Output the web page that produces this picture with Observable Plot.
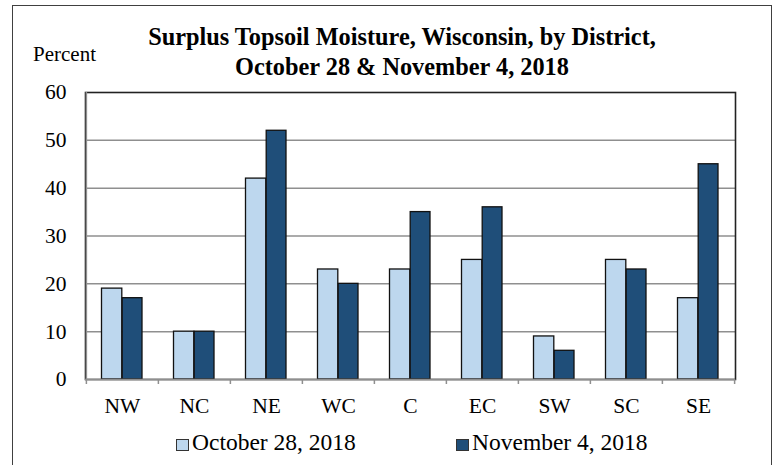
<!DOCTYPE html>
<html>
<head>
<meta charset="utf-8">
<script src="https://cdn.jsdelivr.net/npm/d3@7"></script>
<script src="https://cdn.jsdelivr.net/npm/@observablehq/plot@0.6"></script>
<style>
  html, body { margin: 0; padding: 0; background: #fff; }
  #wrap { position: relative; width: 777px; height: 465px; overflow: hidden; background: #fff; font-family: "Liberation Serif", "Times New Roman", serif; color: #000; }
  #wrap svg { position: absolute; left: 0; top: 0; }
  .t { position: absolute; white-space: nowrap; }
  .title { font-weight: bold; font-size: 24.3px; line-height: 24.3px; transform: translateX(-50%); }
  .border { position: absolute; left: 12px; top: 5px; width: 760px; height: 480px; border: 1.5px solid #404040; box-sizing: border-box; }
  .sw { position: absolute; width: 13px; height: 12px; border: 1px solid #333; box-sizing: border-box; }
  .leg { font-size: 23.5px; line-height: 23.5px; }
</style>
</head>
<body>
<div id="wrap"></div>
<script>
const districts = ["NW", "NC", "NE", "WC", "C", "EC", "SW", "SC", "SE"];
const oct28 = [19, 10, 42, 23, 23, 25, 9, 25, 17];
const nov4 = [17, 10, 52, 20, 35, 36, 6, 23, 45];
const yTicks = [0, 10, 20, 30, 40, 50, 60];
const seriesNames = ["October 28, 2018", "November 4, 2018"];
const titleLines = ["Surplus Topsoil Moisture, Wisconsin, by District,", "October 28 & November 4, 2018"];
const yLabel = "Percent";

const lightBlue = "#BDD7EE";
const darkBlue = "#1F4E79";
const grid = "#8f8f8f";

const octRows = districts.map((d, i) => ({district: d, value: oct28[i]}));
const novRows = districts.map((d, i) => ({district: d, value: nov4[i]}));

const W = 777, H = 465;
const mL = 85, mR = 42, mT = 92, mB = 86;
const half = (W - mL - mR) / districts.length / 2;

const chart = Plot.plot({
  width: W,
  height: H,
  marginLeft: mL,
  marginRight: mR,
  marginTop: mT,
  marginBottom: mB,
  style: {fontFamily: "Liberation Serif, Times New Roman, serif", fontSize: "21.5px", background: "transparent", color: "#000"},
  x: {domain: districts, padding: 0, label: null, tickSize: 0, tickPadding: 18},
  y: {domain: [0, 60], ticks: yTicks, label: null, tickSize: 0, tickPadding: 19, tickFormat: d3.format("d")},
  marks: [
    Plot.ruleY(yTicks.slice(1, -1), {stroke: grid, strokeWidth: 1.5}),
    Plot.barY(octRows, {x: "district", y: "value", fill: lightBlue, stroke: "#111", strokeWidth: 1.3, insetLeft: 15.5, insetRight: 36.2}),
    Plot.barY(novRows, {x: "district", y: "value", fill: darkBlue, stroke: "#111", strokeWidth: 1.3, insetLeft: 36.2, insetRight: 16}),
    Plot.frame({stroke: "#222", strokeWidth: 1.6}),
    Plot.ruleY([0], {stroke: grid, strokeWidth: 1.5}),
    Plot.ruleX([districts[0]], {x: d => d, dx: -half, stroke: grid, strokeWidth: 1.5}),
    Plot.ruleX(districts, {x: d => d, dx: -half, y1: d => 0, y2: d => 0, insetBottom: -5, stroke: grid, strokeWidth: 1.5}),
    Plot.ruleX([districts[districts.length - 1]], {x: d => d, dx: half, y1: d => 0, y2: d => 0, insetBottom: -5, stroke: grid, strokeWidth: 1.5})
  ]
});

const wrap = document.getElementById("wrap");
wrap.appendChild(chart);

function addText(cls, text, left, top, extra) {
  const el = document.createElement("div");
  el.className = "t " + cls;
  el.textContent = text;
  el.style.left = left + "px";
  el.style.top = top + "px";
  if (extra) Object.assign(el.style, extra);
  wrap.appendChild(el);
  return el;
}

addText("title", titleLines[0], 402, 25);
addText("title", titleLines[1], 402, 54.5);
addText("", yLabel, 33, 44.4, {fontSize: "21px", lineHeight: "21px"});

const sw1 = document.createElement("div");
sw1.className = "sw";
Object.assign(sw1.style, {left: "176px", top: "439px", background: lightBlue});
wrap.appendChild(sw1);
addText("leg", seriesNames[0], 192, 430.5);

const sw2 = document.createElement("div");
sw2.className = "sw";
Object.assign(sw2.style, {left: "456px", top: "439px", background: darkBlue});
wrap.appendChild(sw2);
addText("leg", seriesNames[1], 472, 430.5);

const border = document.createElement("div");
border.className = "border";
wrap.appendChild(border);
</script>
</body>
</html>
